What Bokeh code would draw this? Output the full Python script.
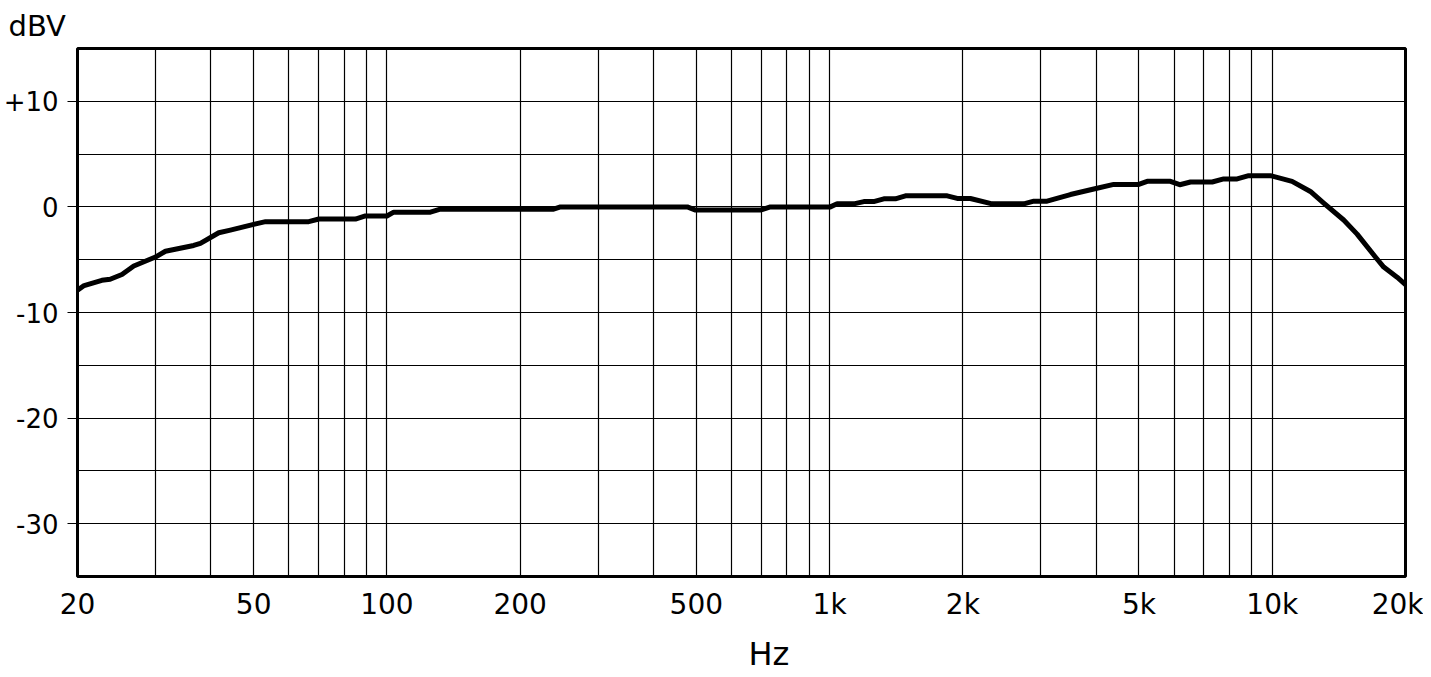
from bokeh.plotting import figure
from bokeh.models import Range1d, FixedTicker, Title
from bokeh.embed import file_html
from bokeh.resources import INLINE

# Frequency response (Hz, dBV)
freq = [20, 20.7, 22.7, 23.7, 25.2, 26.8, 30.0, 31.6, 36.6, 37.9, 41.7, 44.3, 50.0, 53.2,
        66.6, 70.2, 84.9, 89.4, 100, 103.6, 125.4, 132, 238, 246.7, 477, 498, 698, 735,
        1004, 1040, 1134, 1195, 1258, 1326, 1408, 1484, 1844, 1942, 2080, 2329, 2746,
        2893, 3100, 3500, 3953, 4384, 4994, 5218, 5888, 6180, 6537, 7316, 7768, 8332,
        8846, 9904, 11086, 12194, 13070, 14500, 15550, 17100, 17858, 19144, 20000]
dbv = [-7.9, -7.45, -6.95, -6.85, -6.4, -5.6, -4.75, -4.2, -3.65, -3.45, -2.45, -2.2,
       -1.65, -1.4, -1.4, -1.15, -1.15, -0.86, -0.86, -0.5, -0.5, -0.22, -0.22, 0.0,
       0.0, -0.3, -0.3, 0.0, 0.0, 0.29, 0.29, 0.5, 0.5, 0.76, 0.76, 1.05, 1.05, 0.8,
       0.8, 0.29, 0.29, 0.54, 0.54, 1.17, 1.69, 2.13, 2.13, 2.42, 2.42, 2.1, 2.36,
       2.36, 2.65, 2.65, 2.96, 2.96, 2.42, 1.46, 0.35, -1.24, -2.58, -4.74, -5.7,
       -6.66, -7.35]

x_ticks = [20, 50, 100, 200, 500, 1000, 2000, 5000, 10000, 20000]
x_tick_labels = ["20", "50", "100", "200", "500", "1k", "2k", "5k", "10k", "20k"]
x_grid = [30, 40, 50, 60, 70, 80, 90, 100, 200, 300, 400, 500, 600, 700, 800, 900,
          1000, 2000, 3000, 4000, 5000, 6000, 7000, 8000, 9000, 10000]
y_ticks = [-30, -20, -10, 0, 10]
y_tick_labels = ["-30", "-20", "-10", "0", "+10"]
y_grid = [-30, -25, -20, -15, -10, -5, 0, 5, 10]

FONT = "DejaVu Sans"

p = figure(x_axis_type="log", x_range=Range1d(20, 20000), y_range=Range1d(-35, 15),
           frame_width=1328, frame_height=528, min_border_left=77, min_border_top=48,
           min_border_right=18, min_border_bottom=98,
           output_backend="svg", toolbar_location=None)
p.background_fill_color = "white"
p.border_fill_color = "white"
p.outline_line_color = "black"
p.outline_line_width = 3

# grids
p.xgrid.ticker = FixedTicker(ticks=x_grid)
p.ygrid.ticker = FixedTicker(ticks=y_grid)
for g in (p.xgrid, p.ygrid):
    g.grid_line_color = "black"
    g.grid_line_width = 1.2
    g.grid_line_alpha = 1.0

# x axis
xa = p.xaxis[0]
xa.ticker = FixedTicker(ticks=x_ticks)
xa.major_label_overrides = {float(t): l for t, l in zip(x_ticks, x_tick_labels)}
xa.major_tick_out = 0
xa.major_tick_in = 0
xa.minor_tick_out = 0
xa.minor_tick_in = 0
xa.axis_line_color = None
xa.major_label_standoff = 11
xa.major_label_text_font = FONT
xa.major_label_text_font_size = "28px"
xa.major_label_text_color = "black"

# y axis
ya = p.yaxis[0]
ya.ticker = FixedTicker(ticks=y_ticks)
ya.major_label_overrides = {float(t): l for t, l in zip(y_ticks, y_tick_labels)}
ya.major_tick_out = 10
ya.major_tick_in = 0
ya.major_tick_line_width = 1.2
ya.major_tick_line_color = "black"
ya.minor_tick_out = 0
ya.minor_tick_in = 0
ya.axis_line_color = None
ya.major_label_standoff = 9
ya.major_label_text_font = FONT
ya.major_label_text_font_size = "26px"
ya.major_label_text_color = "black"

p.line(freq, dbv, line_color="black", line_width=5, line_join="round", line_cap="round")

p.add_layout(Title(text="dBV", align="left", offset=-69, text_font=FONT,
                   text_font_size="29px", text_font_style="normal", text_color="black",
                   standoff=12), "above")
p.add_layout(Title(text="Hz", align="left", offset=671, text_font=FONT,
                   text_font_size="32px", text_font_style="normal", text_color="black",
                   standoff=18), "below")

open("out.html", "w").write(file_html(p, INLINE))
